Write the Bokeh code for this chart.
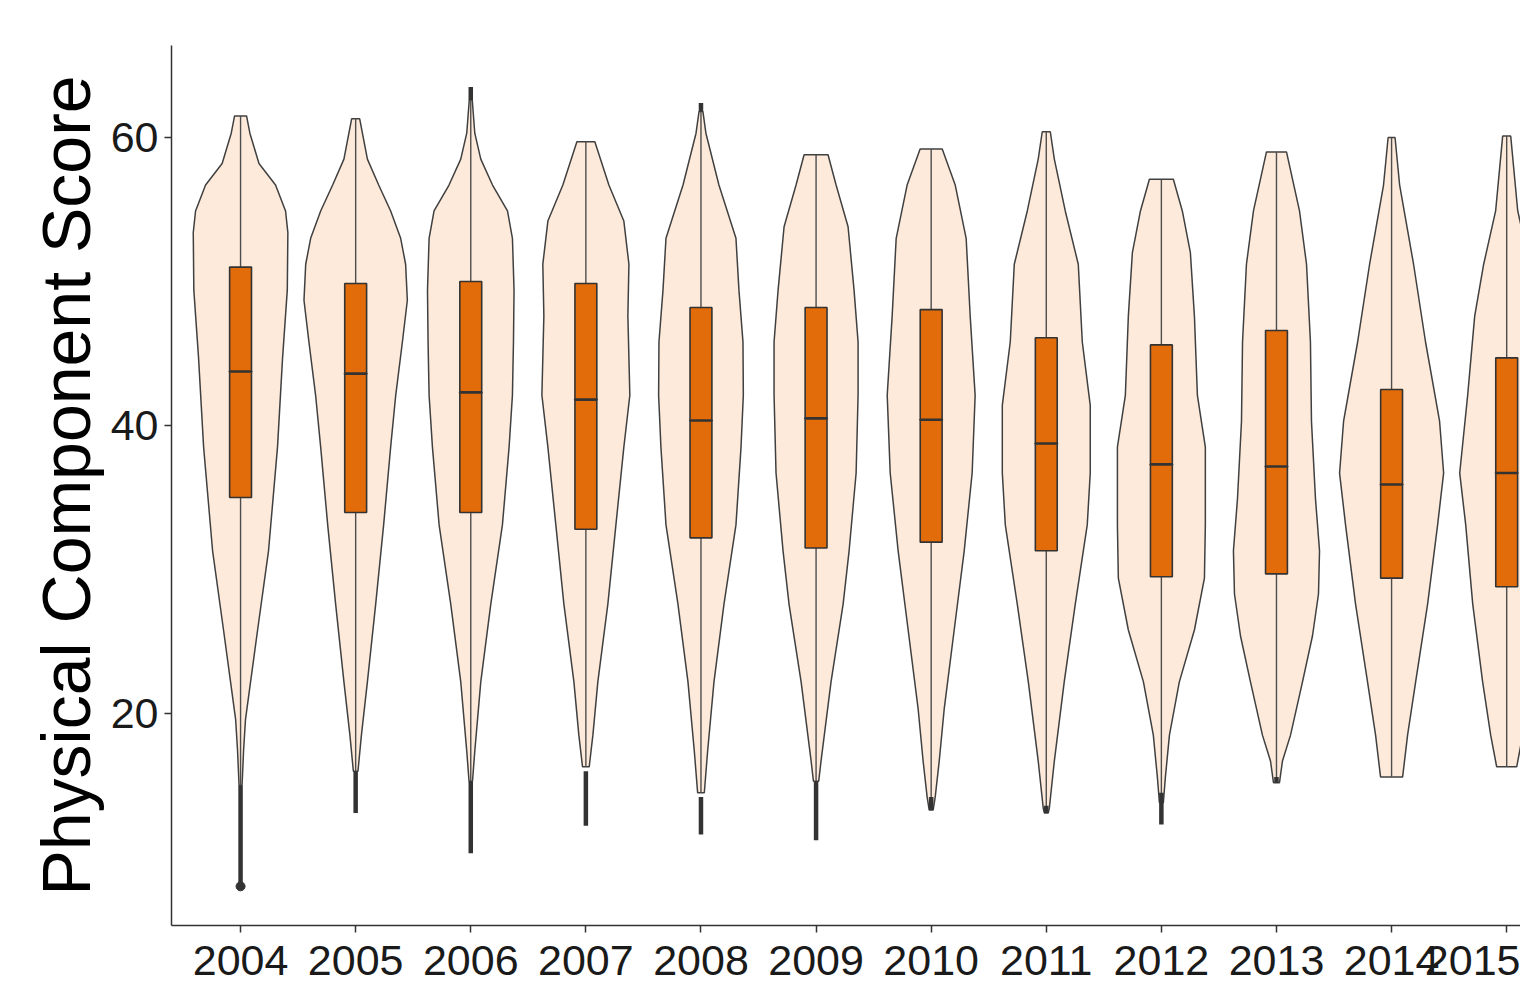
from bokeh.plotting import figure
from bokeh.models import Range1d, FixedTicker, ColumnDataSource
from bokeh.embed import file_html
from bokeh.resources import INLINE

years = [2004, 2005, 2006, 2007, 2008, 2009, 2010, 2011, 2012, 2013, 2014, 2015]

# Violin profiles: score levels (top -> bottom) and half-width of the density at that level
prof_y_2004 = [61.5, 60.3, 58.2, 56.7, 54.9, 53.4, 49.4, 44.7, 38.5, 31.3, 25.8, 22.2, 19.6, 17.4, 15.0]
prof_w_2004 = [0.052, 0.081, 0.16, 0.304, 0.391, 0.411, 0.406, 0.365, 0.321, 0.243, 0.148, 0.087, 0.043, 0.026, 0.013]
prof_y_2005 = [61.3, 58.5, 56.7, 54.9, 53.0, 51.2, 48.7, 45.8, 42.1, 38.5, 33.1, 27.6, 22.2, 18.5, 16.0]
prof_w_2005 = [0.035, 0.102, 0.2, 0.304, 0.391, 0.434, 0.449, 0.406, 0.348, 0.304, 0.243, 0.174, 0.102, 0.05, 0.02]
prof_y_2006 = [62.6, 60.3, 58.5, 56.7, 54.9, 53.0, 49.4, 45.8, 42.1, 38.5, 33.1, 27.6, 22.2, 17.4, 15.3]
prof_w_2006 = [0.013, 0.035, 0.087, 0.189, 0.319, 0.362, 0.376, 0.371, 0.362, 0.333, 0.275, 0.174, 0.087, 0.035, 0.015]
prof_y_2007 = [59.7, 56.7, 54.2, 51.2, 47.6, 42.1, 38.5, 33.1, 27.6, 22.2, 18.5, 16.3]
prof_w_2007 = [0.078, 0.2, 0.33, 0.374, 0.365, 0.382, 0.33, 0.261, 0.191, 0.104, 0.061, 0.029]
prof_y_2008 = [61.8, 60.3, 56.7, 53.0, 49.4, 45.8, 42.1, 38.5, 33.1, 27.6, 22.2, 17.4, 14.5]
prof_w_2008 = [0.017, 0.043, 0.156, 0.304, 0.33, 0.365, 0.368, 0.348, 0.304, 0.2, 0.113, 0.058, 0.029]
prof_y_2009 = [58.8, 56.7, 53.8, 49.4, 45.8, 42.1, 36.7, 31.3, 27.6, 22.2, 16.7, 15.3]
prof_w_2009 = [0.104, 0.174, 0.278, 0.33, 0.365, 0.365, 0.348, 0.287, 0.235, 0.13, 0.043, 0.023]
prof_y_2010 = [59.2, 56.7, 53.0, 47.6, 42.1, 36.7, 31.3, 25.8, 20.3, 16.7, 14.2, 13.3]
prof_w_2010 = [0.096, 0.209, 0.304, 0.339, 0.382, 0.356, 0.287, 0.2, 0.113, 0.07, 0.035, 0.017]
prof_y_2011 = [60.4, 58.5, 54.9, 51.2, 45.8, 41.4, 36.7, 33.1, 27.6, 22.2, 16.7, 13.4, 13.1]
prof_w_2011 = [0.035, 0.07, 0.165, 0.278, 0.313, 0.382, 0.382, 0.356, 0.252, 0.156, 0.07, 0.026, 0.017]
prof_y_2012 = [57.1, 54.9, 52.0, 47.6, 42.1, 38.5, 33.1, 29.4, 25.8, 22.2, 18.5, 15.6, 13.8]
prof_w_2012 = [0.104, 0.182, 0.252, 0.287, 0.313, 0.382, 0.382, 0.374, 0.287, 0.156, 0.07, 0.035, 0.017]
prof_y_2013 = [59.0, 54.9, 51.2, 45.8, 40.3, 34.9, 31.3, 28.3, 25.4, 22.2, 18.5, 16.7, 15.2]
prof_w_2013 = [0.087, 0.2, 0.261, 0.295, 0.304, 0.339, 0.374, 0.365, 0.313, 0.226, 0.122, 0.052, 0.026]
prof_y_2014 = [60.0, 56.7, 51.2, 45.8, 40.3, 36.7, 33.1, 27.6, 22.2, 18.5, 15.6]
prof_w_2014 = [0.03, 0.07, 0.191, 0.295, 0.417, 0.452, 0.4, 0.313, 0.209, 0.139, 0.096]
prof_y_2015 = [60.1, 54.9, 51.2, 47.6, 42.1, 36.7, 33.1, 27.6, 22.2, 18.5, 16.3]
prof_w_2015 = [0.035, 0.096, 0.2, 0.278, 0.339, 0.408, 0.356, 0.295, 0.209, 0.139, 0.087]

prof_y = [prof_y_2004, prof_y_2005, prof_y_2006, prof_y_2007, prof_y_2008, prof_y_2009,
          prof_y_2010, prof_y_2011, prof_y_2012, prof_y_2013, prof_y_2014, prof_y_2015]
prof_w = [prof_w_2004, prof_w_2005, prof_w_2006, prof_w_2007, prof_w_2008, prof_w_2009,
          prof_w_2010, prof_w_2011, prof_w_2012, prof_w_2013, prof_w_2014, prof_w_2015]

# Box-plot statistics
q1 = [35.0, 33.96, 33.96, 32.8, 32.2, 31.5, 31.9, 31.3, 29.5, 29.7, 29.4, 28.8]
median = [43.75, 43.6, 42.3, 41.8, 40.35, 40.5, 40.4, 38.75, 37.3, 37.15, 35.9, 36.7]
q3 = [51.0, 49.86, 50.0, 49.86, 48.2, 48.2, 48.05, 46.1, 45.6, 46.6, 42.5, 44.7]

# Dense outlier runs (overlapping points) below and above the whiskers
low_out_top = [15.0, 16.0, 15.3, 16.0, 14.2, 15.3, 14.2, 13.6, 14.5, 15.6, None, None]
low_out_bot = [8.0, 13.1, 10.3, 12.2, 11.6, 11.2, 13.3, 13.1, 12.3, 15.2, None, None]
high_out_bot = [None, None, 62.6, None, 61.8, None, None, None, None, None, None, None]
high_out_top = [None, None, 63.5, None, 62.4, None, None, None, None, None, None, None]
extreme_low_year = [2004]
extreme_low_value = [8.0]

VIOLIN_FILL = "#FDEADA"
BOX_FILL = "#E36C0A"
DARK = "#333333"

p = figure(width=1520, height=988, output_backend="svg", toolbar_location=None,
           x_range=Range1d(2003.40, 2015.12), y_range=Range1d(5.28, 66.39),
           min_border_left=171, min_border_right=0, min_border_top=45, min_border_bottom=63)
p.outline_line_color = None
p.xgrid.visible = False
p.ygrid.visible = False
p.background_fill_color = "white"

# violins
vx, vy = [], []
for yr, ys, ws in zip(years, prof_y, prof_w):
    xs = [yr - w for w in ws] + [yr + w for w in reversed(ws)]
    yy = list(ys) + list(reversed(ys))
    vx.append(xs)
    vy.append(yy)
p.patches(vx, vy, fill_color=VIOLIN_FILL, line_color="#404040", line_width=1.5)

# whiskers
wtop = [ys[0] for ys in prof_y]
wbot = [ys[-1] for ys in prof_y]
p.segment(x0=years, y0=wbot, x1=years, y1=wtop, line_color="#4d4d4d", line_width=1.4)

# outlier runs
lo = [(yr, a, b) for yr, a, b in zip(years, low_out_top, low_out_bot) if a is not None]
p.segment(x0=[t[0] for t in lo], y0=[t[1] for t in lo], x1=[t[0] for t in lo], y1=[t[2] for t in lo],
          line_color=DARK, line_width=4.5)
hi = [(yr, a, b) for yr, a, b in zip(years, high_out_bot, high_out_top) if a is not None]
p.segment(x0=[t[0] for t in hi], y0=[t[1] for t in hi], x1=[t[0] for t in hi], y1=[t[2] for t in hi],
          line_color=DARK, line_width=4.5)
p.scatter(extreme_low_year, extreme_low_value, size=9, fill_color=DARK, line_color=DARK)

# boxes
src = ColumnDataSource(dict(x=years, q1=q1, q3=q3, med=median))
p.vbar(x="x", width=0.19, top="q3", bottom="q1", source=src,
       fill_color=BOX_FILL, line_color=DARK, line_width=1.6)
p.rect(x="x", y="med", width=0.19, height=0.001, source=src, fill_alpha=0,
       line_color=DARK, line_width=2.6)

# axes
p.xaxis.ticker = FixedTicker(ticks=years)
p.yaxis.ticker = FixedTicker(ticks=[20, 40, 60])
for ax in (p.xaxis, p.yaxis):
    ax.axis_line_color = DARK
    ax.axis_line_width = 1.5
    ax.major_tick_line_color = DARK
    ax.major_tick_line_width = 1.5
    ax.major_tick_out = 7
    ax.major_tick_in = 0
    ax.minor_tick_line_color = None
    ax.major_label_text_font = "Liberation Sans"
    ax.major_label_text_font_size = "43px"
    ax.major_label_text_color = "#1a1a1a"
p.xaxis.major_label_standoff = 13
p.yaxis.major_label_standoff = 6
p.yaxis.axis_label = "Physical Component Score"
p.yaxis.axis_label_text_font = "Liberation Sans"
p.yaxis.axis_label_text_font_size = "68px"
p.yaxis.axis_label_text_font_style = "normal"
p.yaxis.axis_label_text_color = "#000000"
p.yaxis.axis_label_standoff = 4

open("out.html", "w").write(file_html(p, INLINE))
